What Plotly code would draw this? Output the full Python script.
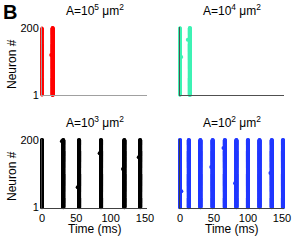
import plotly.graph_objects as go

# ---------------- data ----------------
neurons = list(range(1, 201))

# burst (population spike) times in ms, per panel
bursts_a5 = [0, 15.5]
bursts_a4 = [0, 14.5]
bursts_a3 = [0, 31, 54, 86, 120, 143]
bursts_a2 = [0, 13, 30, 48, 66, 83, 100, 117, 135, 151.5]

# stray spikes (time ms, neuron #)
stray_a5_t = [13.5]
stray_a5_n = [120]
stray_a4_t = [11.5, 1.8]
stray_a4_n = [165, 114]
stray_a3_t = [29, 52, 84, 118, 141]
stray_a3_n = [196, 60, 161, 114, 149]
stray_a2_t = [2, 46, 81, 133, 64]
stray_a2_n = [48, 120, 72, 102, 176]

titles = ["A=10<sup>5</sup> μm<sup>2</sup>", "A=10<sup>4</sup> μm<sup>2</sup>",
          "A=10<sup>3</sup> μm<sup>2</sup>", "A=10<sup>2</sup> μm<sup>2</sup>"]
x_ticks = [0, 50, 100, 150]
y_ticks = [1, 200]

# ---------------- layout helpers ----------------
W, H = 292, 240
FONT = "Liberation Sans"

def px_x(a, b):
    return [a / W, b / W]

def px_y(top, bottom):
    return [1 - bottom / H, 1 - top / H]

panels = [
    dict(bursts=bursts_a5, st=stray_a5_t, sn=stray_a5_n, color="#FF0000", sizes=[3, 4],
         xd=px_x(42, 147), yd=px_y(27.3, 95.3), axc="#A0A0A0"),
    dict(bursts=bursts_a4, st=stray_a4_t, sn=stray_a4_n, color="#3FF2B4", sizes=[3.5, 4],
         xd=px_x(180, 284), yd=px_y(27.3, 95.3), axc="#505050"),
    dict(bursts=bursts_a3, st=stray_a3_t, sn=stray_a3_n, color="#000000", sizes=[4] * 6,
         xd=px_x(42, 147), yd=px_y(139.3, 207.6), axc="#404040"),
    dict(bursts=bursts_a2, st=stray_a2_t, sn=stray_a2_n, color="#2038FF", sizes=[4] * 10,
         xd=px_x(180, 284), yd=px_y(139.3, 207.6), axc="#404040"),
]

fig = go.Figure()
layout = dict(width=W, height=H, margin=dict(l=0, r=0, t=0, b=0, pad=0),
              paper_bgcolor="white", plot_bgcolor="white", showlegend=False,
              font=dict(family=FONT, size=11, color="black"))

annotations = []
for i, p in enumerate(panels):
    k = "" if i == 0 else str(i + 1)
    xa, ya = "x" + k, "y" + k
    for b, s in zip(p["bursts"], p["sizes"]):
        fig.add_trace(go.Scatter(x=[b] * len(neurons), y=neurons, xaxis=xa, yaxis=ya,
                                 mode="markers", cliponaxis=False, hoverinfo="skip",
                                 marker=dict(color=p["color"], size=s, symbol="circle",
                                             line=dict(width=0))))
    fig.add_trace(go.Scatter(x=p["st"], y=p["sn"], xaxis=xa, yaxis=ya, mode="markers",
                             cliponaxis=False, hoverinfo="skip",
                             marker=dict(color=p["color"], size=4, line=dict(width=0))))
    bottom_row = i >= 2
    left_col = i % 2 == 0
    layout["xaxis" + k] = dict(domain=p["xd"], range=[0, 153], anchor=ya, automargin=False,
                               showline=True, linecolor=p["axc"], linewidth=1,
                               showgrid=False, zeroline=False, ticks="",
                               tickvals=x_ticks, showticklabels=bottom_row,
                               tickfont=dict(family=FONT, size=11, color="black"))
    layout["yaxis" + k] = dict(domain=p["yd"], range=[0, 202], anchor=xa, automargin=False,
                               showline=True, linecolor=p["axc"], linewidth=1,
                               showgrid=False, zeroline=False, ticks="",
                               tickvals=y_ticks, showticklabels=left_col,
                               tickfont=dict(family=FONT, size=11, color="black"))
    cx = (p["xd"][0] + p["xd"][1]) / 2
    ty = 10 if i < 2 else 122
    annotations.append(dict(text=titles[i], x=cx, y=1 - ty / H, xref="paper", yref="paper",
                            xanchor="center", yanchor="middle", showarrow=False,
                            font=dict(family=FONT, size=12, color="black")))
    if left_col:
        ly = 64 if i < 2 else 176
        annotations.append(dict(text="Neuron #", x=12 / W, y=1 - ly / H, xref="paper",
                                yref="paper", textangle=-90, xanchor="center",
                                yanchor="middle", showarrow=False,
                                font=dict(family=FONT, size=12, color="black")))
    if bottom_row:
        annotations.append(dict(text="Time (ms)", x=cx, y=1 - 229 / H, xref="paper",
                                yref="paper", xanchor="center", yanchor="middle",
                                showarrow=False,
                                font=dict(family=FONT, size=12, color="black")))

annotations.append(dict(text="<b>B</b>", x=10 / W, y=1 - 12 / H, xref="paper", yref="paper",
                        xanchor="center", yanchor="middle", showarrow=False,
                        font=dict(family=FONT, size=20, color="black")))
layout["annotations"] = annotations
fig.update_layout(**layout)
fig.write_html("out.html", config={"displayModeBar": False},
               post_script="document.body.style.margin='0';")
